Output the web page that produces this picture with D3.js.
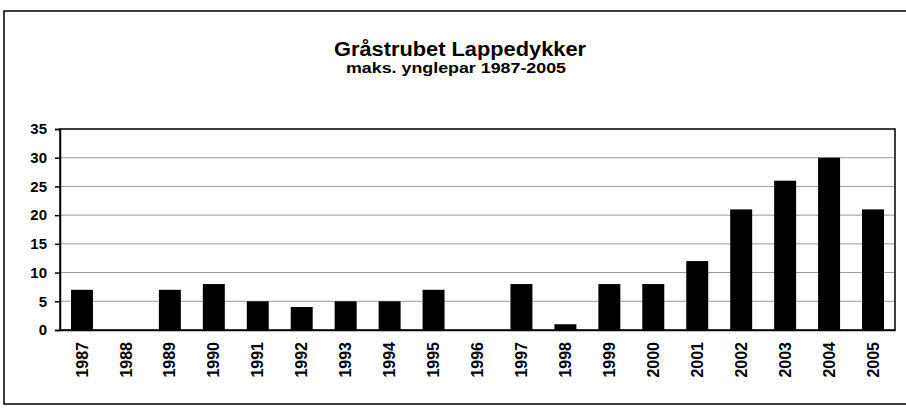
<!DOCTYPE html>
<html>
<head>
<meta charset="utf-8">
<script src="https://cdn.jsdelivr.net/npm/d3@7"></script>
<style>
  body { margin: 0; background: #fff; }
  text { font-family: "Liberation Sans", Arial, sans-serif; font-weight: bold; fill: #000; }
</style>
</head>
<body>
<script>
// Data
const years = ['1987', '1988', '1989', '1990', '1991', '1992', '1993', '1994', '1995', '1996',
  '1997', '1998', '1999', '2000', '2001', '2002', '2003', '2004', '2005'];
const pairs = [7, 0, 7, 8, 5, 4, 5, 5, 7, 0, 8, 1, 8, 8, 12, 21, 26, 30, 21];
const yTicks = [0, 5, 10, 15, 20, 25, 30, 35];

const W = 906, H = 408;
const plot = { left: 60, right: 895, top: 129, bottom: 330 };

const svg = d3.select('body')
  .append('svg')
  .attr('width', W)
  .attr('height', H);

// outer chart frame
svg.append('rect')
  .attr('x', 4)
  .attr('y', 11)
  .attr('width', W + 10)
  .attr('height', 393)
  .attr('fill', 'none')
  .attr('stroke', '#000')
  .attr('stroke-width', 1.5);

// titles
svg.append('text')
  .attr('x', 460)
  .attr('y', 56)
  .attr('text-anchor', 'middle')
  .attr('textLength', 252)
  .attr('lengthAdjust', 'spacingAndGlyphs')
  .style('font-size', '20px')
  .text('Gråstrubet Lappedykker');

svg.append('text')
  .attr('x', 456)
  .attr('y', 73)
  .attr('text-anchor', 'middle')
  .attr('textLength', 220)
  .attr('lengthAdjust', 'spacingAndGlyphs')
  .style('font-size', '14px')
  .text('maks. ynglepar 1987-2005');

// scales
const x = d3.scaleBand()
  .domain(years)
  .range([plot.left, plot.right])
  .paddingInner(0.5)
  .paddingOuter(0.25);

const y = d3.scaleLinear()
  .domain([0, 35])
  .range([plot.bottom, plot.top]);

// gridlines
svg.append('g')
  .selectAll('line')
  .data(yTicks.filter((d) => d > 0 && d < 35))
  .join('line')
  .attr('x1', plot.left)
  .attr('x2', plot.right)
  .attr('y1', (d) => y(d))
  .attr('y2', (d) => y(d))
  .attr('stroke', '#999')
  .attr('stroke-width', 1);

// plot area border (top / right)
svg.append('rect')
  .attr('x', plot.left)
  .attr('y', plot.top)
  .attr('width', plot.right - plot.left)
  .attr('height', plot.bottom - plot.top)
  .attr('fill', 'none')
  .attr('stroke', '#000')
  .attr('stroke-width', 1.5);

// bars
svg.append('g')
  .selectAll('rect')
  .data(years)
  .join('rect')
  .attr('x', (d) => x(d))
  .attr('y', (d, i) => y(pairs[i]))
  .attr('width', x.bandwidth())
  .attr('height', (d, i) => y(0) - y(pairs[i]))
  .attr('fill', '#000');

// y axis
const yAxis = svg.append('g')
  .attr('transform', `translate(${plot.left},0)`)
  .call(d3.axisLeft(y).tickValues(yTicks).tickSize(5).tickPadding(8));
yAxis.selectAll('text').style('font-size', '15px');
yAxis.selectAll('line, path').attr('stroke', '#000').attr('stroke-width', 1.5);

// x axis
const xAxis = svg.append('g')
  .attr('transform', `translate(0,${plot.bottom})`)
  .call(d3.axisBottom(x).tickSize(0).tickPadding(0));
xAxis.select('.domain').attr('stroke', '#000').attr('stroke-width', 1.5);
xAxis.selectAll('text')
  .style('font-size', '16px')
  .attr('text-anchor', 'end')
  .attr('transform', 'rotate(-90)')
  .attr('x', -12)
  .attr('y', 0)
  .attr('dy', '0.35em');
</script>
</body>
</html>
